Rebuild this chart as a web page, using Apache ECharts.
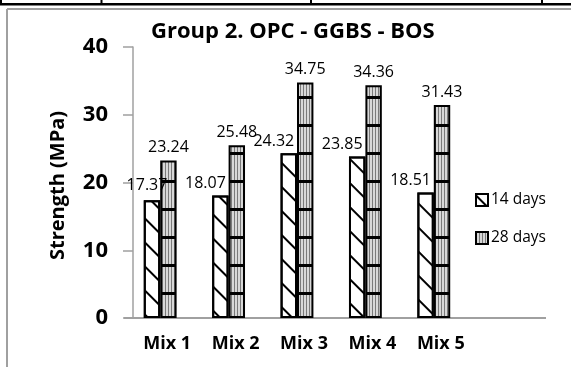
<!DOCTYPE html>
<html><head><meta charset="utf-8">
<script src="https://cdn.jsdelivr.net/npm/echarts@6/dist/echarts.min.js"></script>
<style>html,body{margin:0;padding:0;background:#fff}#c{width:571px;height:367px}</style>
</head><body><div id="c"></div>
<script>
const categories = ['Mix 1', 'Mix 2', 'Mix 3', 'Mix 4', 'Mix 5'];
const days14 = [17.37, 18.07, 24.32, 23.85, 18.51];
const days28 = [23.24, 25.48, 34.75, 34.36, 31.43];
const yTicks = [0, 10, 20, 30, 40];
const seriesNames = ['14 days', '28 days'];
const titleText = 'Group 2. OPC - GGBS - BOS';
const yName = 'Strength (MPa)';

const FONT = 'Open Sans';

function stripePattern() {
  const c = document.createElement('canvas');
  c.width = 3; c.height = 28;
  const g = c.getContext('2d');
  g.fillStyle = '#d8d8d8'; g.fillRect(0, 0, 3, 28);
  g.fillStyle = '#7a7a7a'; g.fillRect(0, 0, 1, 28);
  g.fillStyle = '#000'; g.fillRect(0, 12, 3, 3);
  return c;
}

const chart = echarts.init(document.getElementById('c'), null, {renderer: 'canvas'});

const gray = '#a0a0a0';
const option = {
  animation: false,
  backgroundColor: '#fff',
  title: {
    text: titleText,
    left: 146, top: 16,
    textStyle: {fontFamily: FONT, fontWeight: 'bold', fontSize: 22, color: '#000'}
  },
  legend: {
    data: seriesNames,
    orient: 'vertical',
    left: 470, top: 187,
    itemWidth: 12, itemHeight: 12, itemGap: 22,
    icon: 'rect',
    textStyle: {fontFamily: FONT, fontSize: 15.5, color: '#000', padding: [0, 0, 0, -2]}
  },
  grid: {left: 126, right: 103, top: 47, bottom: 49, containLabel: false},
  xAxis: {
    type: 'category',
    data: categories,
    axisLine: {show: false},
    axisTick: {show: false},
    axisLabel: {fontFamily: FONT, fontWeight: 'bold', fontSize: 18, color: '#000', margin: 17, padding: [0, 0, 0, 14]}
  },
  yAxis: {
    type: 'value',
    min: yTicks[0], max: yTicks[yTicks.length - 1], interval: 10,
    offset: -7,
    name: yName,
    nameLocation: 'middle',
    nameGap: 65,
    nameTextStyle: {fontFamily: FONT, fontWeight: 'bold', fontSize: 20, color: '#000', padding: [0, 0, 0, -6]},
    axisLine: {show: true, lineStyle: {color: gray, width: 1.5}},
    axisTick: {show: true, inside: false, length: 10, lineStyle: {color: gray, width: 1.5}},
    splitLine: {show: false},
    axisLabel: {fontFamily: FONT, fontWeight: 'bold', fontSize: 22, color: '#000', margin: 25}
  },
  series: [
    {
      name: seriesNames[0],
      type: 'bar',
      barGap: '0%',
      barCategoryGap: '52%',
      data: days14.map((v, i) => i === 0 ? {value: v, label: {offset: [-5, -3]}} : v),
      itemStyle: {
        color: '#fff', borderColor: '#000', borderWidth: 2,
        decal: {symbol: 'rect', symbolSize: 1, dashArrayX: [1, 0], dashArrayY: [2, 15], rotation: Math.PI / 4, color: '#000'}
      },
      label: {show: true, position: 'top', distance: 4, offset: [-15, 0], fontFamily: FONT, fontSize: 16, color: '#000'}
    },
    {
      name: seriesNames[1],
      type: 'bar',
      barGap: '0%',
      barCategoryGap: '52%',
      data: days28,
      itemStyle: {
        color: {image: stripePattern(), repeat: 'repeat'},
        borderColor: '#000', borderWidth: 2
      },
      label: {show: true, position: 'top', distance: 5, fontFamily: FONT, fontSize: 16, color: '#000'}
    }
  ],
  graphic: [
    {type: 'rect', shape: {x: 0, y: 3, width: 571, height: 2.5}, style: {fill: '#000'}, silent: true},
    {type: 'rect', shape: {x: 0, y: 0, width: 2, height: 5}, style: {fill: '#000'}, silent: true},
    {type: 'rect', shape: {x: 100.5, y: 0, width: 2, height: 5}, style: {fill: '#000'}, silent: true},
    {type: 'rect', shape: {x: 310, y: 0, width: 2, height: 5}, style: {fill: '#000'}, silent: true},
    {type: 'rect', shape: {x: 541, y: 0, width: 2, height: 5}, style: {fill: '#000'}, silent: true},
    {type: 'line', shape: {x1: 7, y1: 9, x2: 571, y2: 9}, style: {stroke: gray, lineWidth: 2}, silent: true},
    {type: 'line', shape: {x1: 7, y1: 9, x2: 7, y2: 367}, style: {stroke: gray, lineWidth: 2}, silent: true},
    {type: 'line', shape: {x1: 124, y1: 318, x2: 546, y2: 318}, style: {stroke: gray, lineWidth: 2}, silent: true, z: 1}
  ]
};
chart.setOption(option);
</script>
</body></html>
